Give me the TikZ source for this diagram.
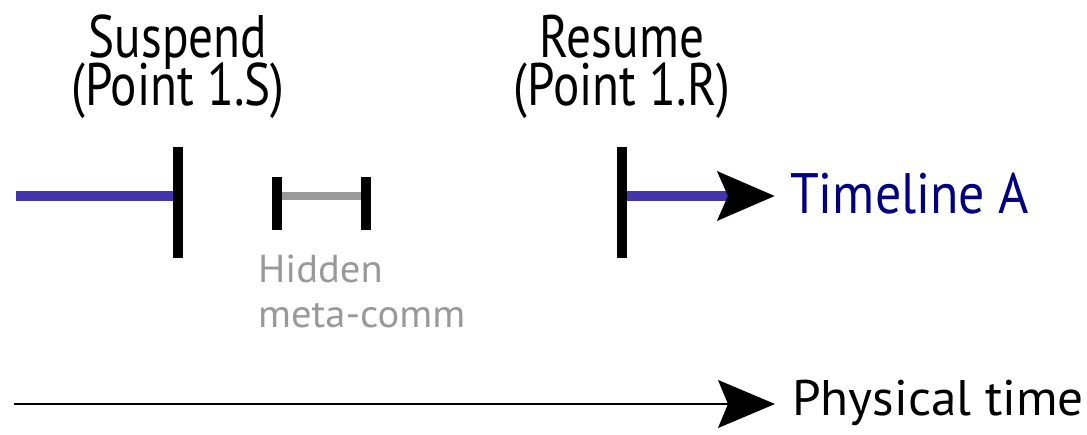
\documentclass[tikz,border=0pt]{standalone}
\usepackage{fontspec}
\setmainfont{PT Sans}
\newfontfamily\topfont[FakeStretch=0.82]{PT Sans}
\newfontfamily\tlfont[FakeStretch=0.91]{PT Sans}
\newfontfamily\phfont[FakeStretch=1.025]{PT Sans}
\newfontfamily\hidfont[FakeStretch=1.04]{PT Sans}
\newcommand\mytoplblfont{\topfont\fontsize{60}{48}\selectfont\setlength{\lineskiplimit}{-100pt}}
\usetikzlibrary{arrows.meta}
\definecolor{tlblue}{RGB}{68,51,170}
\definecolor{navy}{RGB}{0,0,128}
\definecolor{hidgrey}{RGB}{153,153,153}
\tikzset{
  tickbar/.style={line width=10pt, black},
  tline/.style={line width=10pt, tlblue},
  hidline/.style={line width=8pt, hidgrey},
  bigarrow/.style={-{Stealth[length=57pt,width=48pt,inset=10pt,black]}},
  toplbl/.style={inner sep=0pt, align=center, font=\mytoplblfont},
  sidelbl/.style={inner sep=0pt},
  hidlbl/.style={inner sep=0pt, font=\hidfont\fontsize{39}{45}\selectfont, text=hidgrey, align=left},
}
\begin{document}
\begin{tikzpicture}[x=1pt,y=-1pt]
\useasboundingbox (0,0) rectangle (1087,434);
% ticks
\coordinate (sT) at (178,147); \coordinate (sB) at (178,258);
\coordinate (rT) at (622,147); \coordinate (rB) at (622,258);
\coordinate (hLT) at (277,177); \coordinate (hLB) at (277,230);
\coordinate (hRT) at (366,177); \coordinate (hRB) at (366,230);
\coordinate (aStart) at (16,196);
\coordinate (sMid) at (178,196);
\coordinate (rMid) at (622,196);
\coordinate (hL) at (277,196);
\coordinate (hR) at (366,196);
\coordinate (aEnd) at (775,196);
\coordinate (pStart) at (14,404);
\coordinate (pEnd) at (775,404);
% timeline A
\draw[tline] (aStart) -- (sMid);
\draw[tline, bigarrow] (rMid) -- (aEnd);
\draw[tickbar] (sT) -- (sB);
\draw[tickbar] (rT) -- (rB);
% hidden meta-comm
\draw[hidline] (hL) -- (hR);
\draw[tickbar] (hLT) -- (hLB);
\draw[tickbar] (hRT) -- (hRB);
% physical time
\draw[line width=1.5pt, bigarrow] (pStart) -- (pEnd);
% labels
\node[toplbl, anchor=base] (susp) at (178,105) {Suspend\\(Point 1.S)};
\node[toplbl, anchor=base] (res) at (622,105) {Resume\\(Point 1.R)};
\node[sidelbl, anchor=base west, text=navy, font=\tlfont\fontsize{57}{64}\selectfont] (tlA) at (790,213) {Timeline A};
\node[sidelbl, anchor=base west, font=\phfont\fontsize{50}{56}\selectfont] (phys) at (792,415) {Physical time};
\node[hidlbl, anchor=base west] (hid) at (258,327) {Hidden\\meta-comm};
\end{tikzpicture}
\end{document}
